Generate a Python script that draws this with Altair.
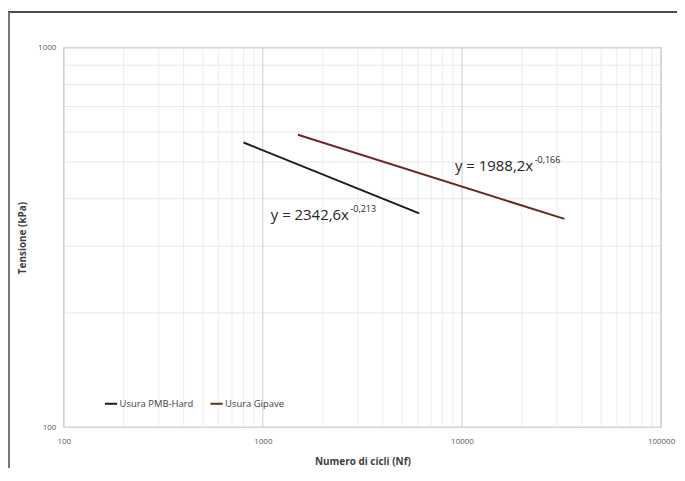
import altair as alt
import pandas as pd

# Series
series_names = ["Usura PMB-Hard", "Usura Gipave"]
pmb_x = [800, 6100]
pmb_y = [563, 366]
gip_x = [1500, 32700]
gip_y = [590, 354]
series_colors = ["#1c1c1c", "#6b2626"]

# Axis ticks
x_major = [100, 1000, 10000, 100000]
y_major = [100, 1000]
x_minor = [v * m for m in (100, 1000, 10000) for v in range(2, 10)]
y_minor = [v * 100 for v in range(2, 10)]

# Equation labels
eq_main = ["y = 2342,6x", "y = 1988,2x"]
eq_exp = ["-0,213", "-0,166"]
eq_x = [1096, 9226]
eq_y = [362, 489]

FONT = "Open Sans"

lines_df = pd.DataFrame({
    "Nf": pmb_x + gip_x,
    "Tensione": pmb_y + gip_y,
    "serie": [series_names[0]] * len(pmb_x) + [series_names[1]] * len(gip_x),
})

xscale = alt.Scale(type="log", domain=[100, 100000], nice=False)
yscale = alt.Scale(type="log", domain=[100, 1000], nice=False)

x_axis = alt.Axis(values=x_major, format="d", title="Numero di cicli (Nf)",
                  grid=False, ticks=False, domain=False, labelPadding=10,
                  labelFontSize=8, labelColor="#595959", titleFontSize=10,
                  titleFontWeight="bold", titleColor="#404040", titlePadding=12,
                  labelFont=FONT, titleFont=FONT, labelFlush=False)
y_axis = alt.Axis(values=y_major, format="d", title="Tensione (kPa)",
                  grid=False, ticks=False, domain=False, labelPadding=8,
                  labelFontSize=8, labelColor="#595959", titleFontSize=10,
                  titleFontWeight="bold", titleColor="#404040", titlePadding=10,
                  labelFont=FONT, titleFont=FONT, labelFlush=False)

minor_x = alt.Chart(pd.DataFrame({"v": x_minor})).mark_rule(
    color="#ececec", strokeWidth=1
).encode(x=alt.X("v:Q", scale=xscale, axis=x_axis))
minor_y = alt.Chart(pd.DataFrame({"v": y_minor})).mark_rule(
    color="#e6e6e6", strokeWidth=1
).encode(y=alt.Y("v:Q", scale=yscale, axis=y_axis))
major_x = alt.Chart(pd.DataFrame({"v": x_major})).mark_rule(
    color="#cfcfcf", strokeWidth=1
).encode(x=alt.X("v:Q", scale=xscale, axis=x_axis))

lines = alt.Chart(lines_df).mark_line(strokeWidth=2).encode(
    x=alt.X("Nf:Q", scale=xscale, axis=x_axis),
    y=alt.Y("Tensione:Q", scale=yscale, axis=y_axis),
    color=alt.Color("serie:N", scale=alt.Scale(domain=series_names, range=series_colors),
                    legend=alt.Legend(title=None, orient="none", direction="horizontal",
                                      legendX=40, legendY=350, symbolType="stroke",
                                      symbolSize=150, symbolStrokeWidth=2,
                                      labelFontSize=9.5, labelColor="#404040",
                                      labelFont=FONT, columnPadding=12,
                                      symbolOffset=0, labelOffset=1)),
)

eq_df = pd.DataFrame({"x": eq_x, "y": eq_y, "t": eq_main, "e": eq_exp})
eq_text = alt.Chart(eq_df).mark_text(
    align="left", baseline="middle", fontSize=15, font=FONT, color="#262626"
).encode(x=alt.X("x:Q", scale=xscale, axis=x_axis),
         y=alt.Y("y:Q", scale=yscale, axis=y_axis), text="t:N")
eq_sup = alt.Chart(eq_df).mark_text(
    align="left", baseline="middle", fontSize=9, font=FONT, color="#262626", dx=80, dy=-6
).encode(x=alt.X("x:Q", scale=xscale, axis=x_axis),
         y=alt.Y("y:Q", scale=yscale, axis=y_axis), text="e:N")

# outer chart-area border
top_border = alt.Chart(pd.DataFrame({"a": [0]})).mark_rule(color="#111111", strokeWidth=1.5).encode(
    x=alt.value(-56), x2=alt.value(640), y=alt.value(-36))
left_border = alt.Chart(pd.DataFrame({"a": [0]})).mark_rule(color="#777777", strokeWidth=2).encode(
    x=alt.value(-55), y=alt.value(-36), y2=alt.value(470))

chart = alt.layer(
    minor_x, minor_y, major_x, lines, eq_text, eq_sup, top_border, left_border
).properties(
    width=600, height=381,
    autosize=alt.AutoSizeParams(type="none"),
    padding={"left": 56, "top": 39, "right": 16, "bottom": 40},
    background="white",
).configure_view(stroke="#d4d4d4", strokeWidth=1.5)

chart.save("out.html", embed_options={"renderer": "svg", "actions": False})
